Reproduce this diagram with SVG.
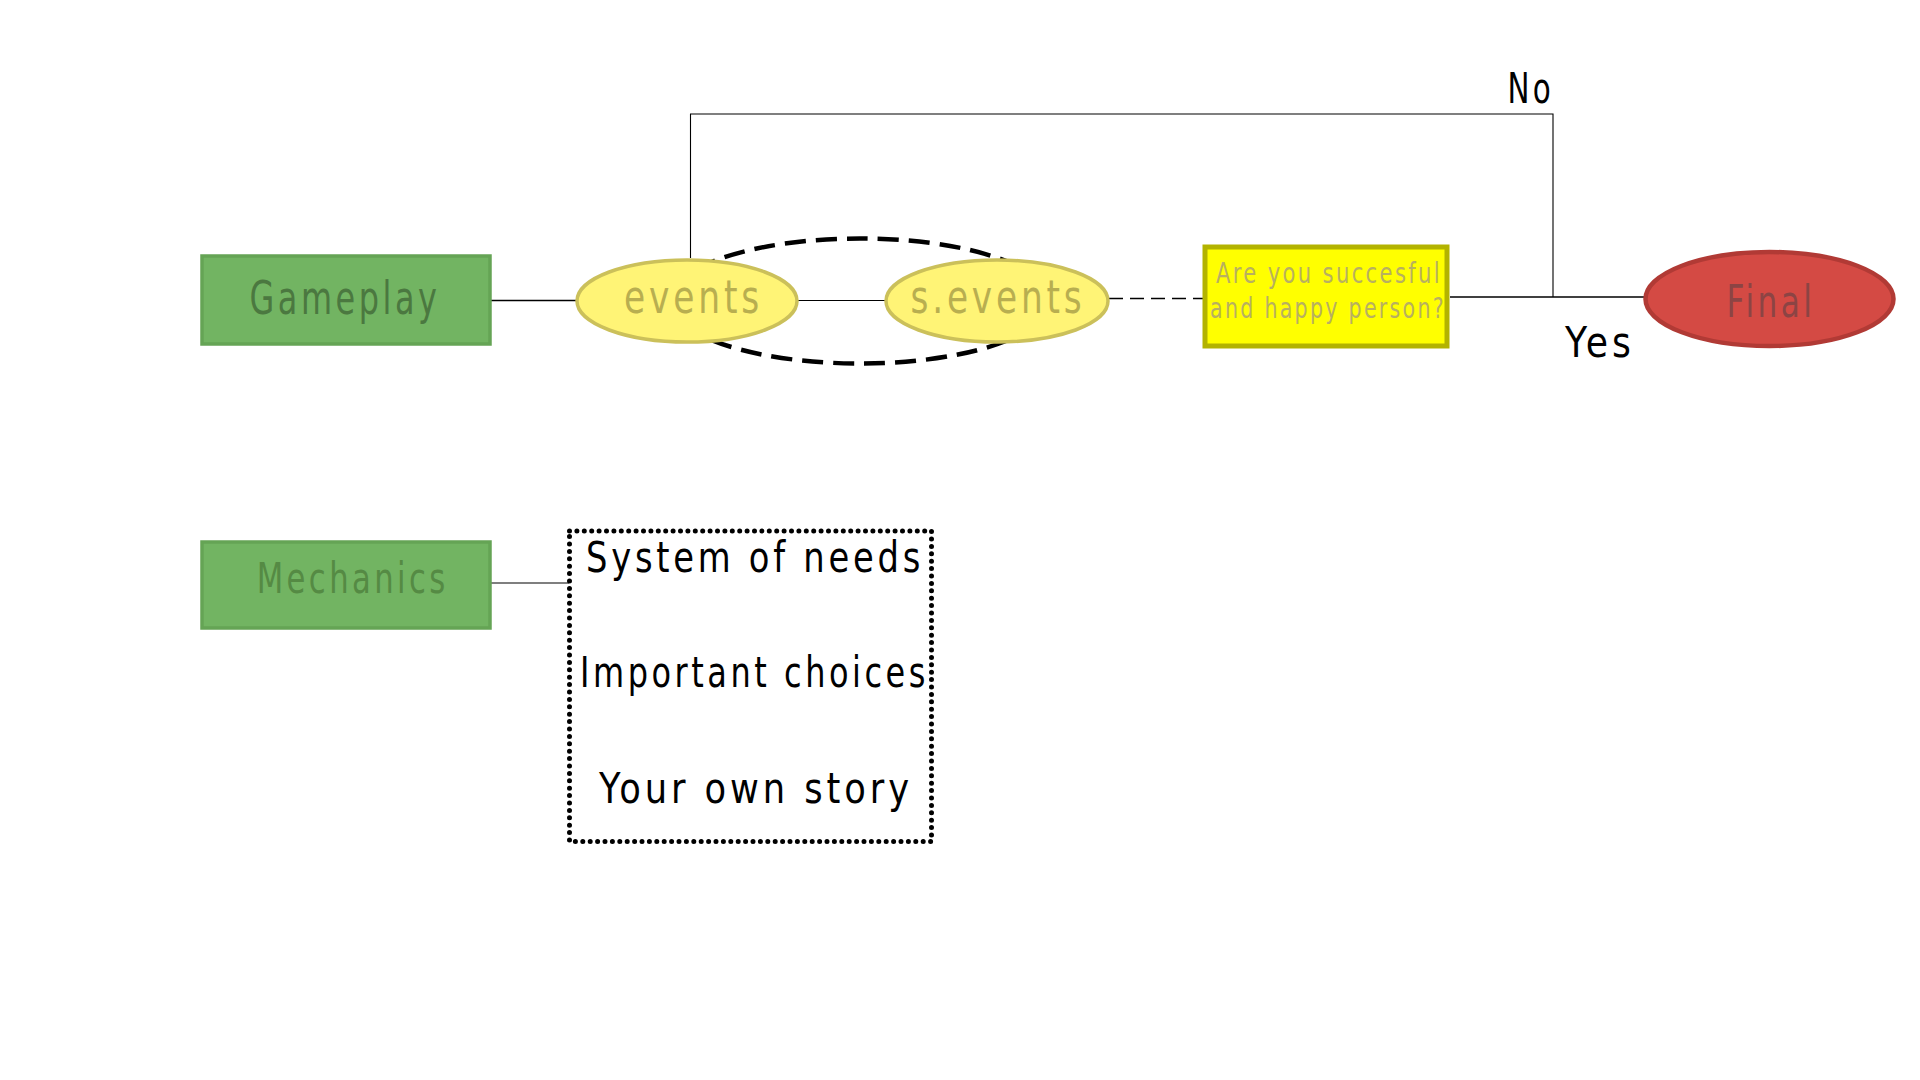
<svg xmlns="http://www.w3.org/2000/svg" width="1920" height="1080" viewBox="0 0 1920 1080">
<style>
text{font-family:"DejaVu Sans Condensed","DejaVu Sans",sans-serif;font-stretch:condensed;letter-spacing:0.1em}
.green{fill:#72b462;stroke:#65a455;stroke-width:3.5}
.yel{fill:#fff476;stroke:#cbc05a;stroke-width:3.5}
.ln{fill:none;stroke:#000;stroke-width:1.6}
.thin{fill:none;stroke:#000;stroke-width:1.1}
.blk{fill:#000}
</style>
<rect width="1920" height="1080" fill="#fff"/>
<g id="connectors">
<ellipse cx="860" cy="301" rx="190" ry="62.5" fill="none" stroke="#000" stroke-width="4.5" stroke-dasharray="21 10"/>
<line class="ln" x1="490" y1="300.5" x2="576" y2="300.5"/>
<line class="thin" x1="798" y1="300.5" x2="886" y2="300.5"/>
<line x1="1109" y1="298.5" x2="1204" y2="298.5" stroke="#000" stroke-width="1.3" stroke-dasharray="14 7"/>
<line class="ln" x1="1450" y1="297" x2="1646" y2="297"/>
<polyline class="thin" points="690.5,258 690.5,114 1553,114 1553,297"/>
<line class="thin" x1="491" y1="583" x2="569" y2="583"/>
</g>
<g id="gameplay">
<rect class="green" x="202" y="256" width="288" height="88"/>
<text x="345" y="314" font-size="47" fill="#4b7840" text-anchor="middle" textLength="191" lengthAdjust="spacingAndGlyphs">Gameplay</text>
</g>
<g id="events">
<ellipse class="yel" cx="687" cy="301" rx="110" ry="41"/>
<text x="693.5" y="312.5" font-size="46" fill="#b8ae50" text-anchor="middle" textLength="139" lengthAdjust="spacingAndGlyphs">events</text>
</g>
<g id="sevents">
<ellipse class="yel" cx="997" cy="301" rx="111" ry="41"/>
<text x="998" y="312.5" font-size="46" fill="#b8ae50" text-anchor="middle" textLength="175" lengthAdjust="spacingAndGlyphs">s.events</text>
</g>
<g id="question">
<rect x="1205" y="247" width="242" height="99" fill="#ffff00" stroke="#b3b300" stroke-width="5"/>
<text x="1329" y="282.7" font-size="28" fill="#b8b060" text-anchor="middle" textLength="226" lengthAdjust="spacingAndGlyphs">Are you succesful</text>
<text x="1328" y="318.3" font-size="28" fill="#b8b060" text-anchor="middle" textLength="236" lengthAdjust="spacingAndGlyphs">and happy person?</text>
</g>
<g id="final">
<ellipse cx="1769.5" cy="299" rx="124" ry="47" fill="#d44a44" stroke="#b13a35" stroke-width="4.5"/>
<text x="1771" y="317.3" font-size="44" fill="#8c4444" text-anchor="middle" textLength="89" lengthAdjust="spacingAndGlyphs">Final</text>
</g>
<g id="labels">
<text x="1507.5" y="103.3" font-size="43" class="blk" textLength="46.5" lengthAdjust="spacingAndGlyphs">No</text>
<text x="1565" y="357.3" font-size="43" class="blk" textLength="70" lengthAdjust="spacingAndGlyphs">Yes</text>
</g>
<g id="mechanics">
<rect class="green" x="202" y="542" width="288" height="86"/>
<text x="352.7" y="593.3" font-size="43" fill="#558a44" text-anchor="middle" textLength="192" lengthAdjust="spacingAndGlyphs">Mechanics</text>
</g>
<g id="features">
<rect x="569.5" y="531" width="362" height="310.5" fill="none" stroke="#000" stroke-width="5" stroke-linecap="round" stroke-dasharray="0 7.4"/>
<text x="586" y="572.3" font-size="42" class="blk" textLength="338" lengthAdjust="spacingAndGlyphs">System of needs</text>
<text x="580" y="686.7" font-size="42" class="blk" textLength="349" lengthAdjust="spacingAndGlyphs">Important choices</text>
<text x="599" y="802.7" font-size="42" class="blk" textLength="314" lengthAdjust="spacingAndGlyphs">Your own story</text>
</g>
</svg>
